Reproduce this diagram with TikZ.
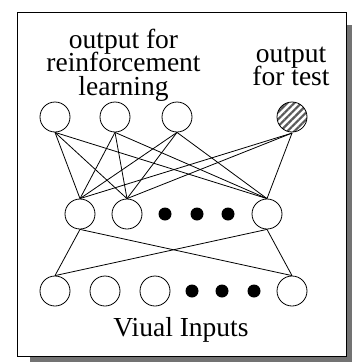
\documentclass[tikz,border=0pt]{standalone}
\usepackage{fontspec}
\setmainfont{Liberation Serif}
\usetikzlibrary{patterns.meta}
\tikzset{
  neuron/.style={circle,draw,line width=0.8pt,minimum size=30pt,inner sep=0pt,fill=white},
  dotnode/.style={circle,fill=black,minimum size=13pt,inner sep=0pt},
  conn/.style={line width=0.8pt},
  lbl/.style={align=center,inner sep=0pt,font={\fontsize{27.5}{23.5}\selectfont\lineskiplimit=-30pt}},
}
\begin{document}
\begin{tikzpicture}[x=1pt,y=-1pt]
\useasboundingbox (0,0) rectangle (352,362);
% shadow and frame
\fill[black!55] (30,25) rectangle (352,362);
\draw[fill=white,line width=0.8pt] (17,12) rectangle (346,356);
% labels
\node[lbl] (rl) at (123.5,65) {output for\\reinforcement\\learning};
\node[lbl] (tl) at (291,66.5) {output\\for test};
\node[lbl,anchor=base] (vi) at (181,336) {Viual Inputs};
% top layer
\node[neuron] (a1) at (55,117) {};
\node[neuron] (a2) at (115,117) {};
\node[neuron] (a3) at (177,117) {};
\node[neuron,pattern={Lines[angle=45,distance=5pt,line width=2.2pt]},pattern color=black!65] (t) at (292,117) {};
% middle layer
\node[neuron] (m1) at (80,214) {};
\node[neuron] (m2) at (127,214) {};
\node[dotnode] (md1) at (165,214) {};
\node[dotnode] (md2) at (197,214) {};
\node[dotnode] (md3) at (228,214) {};
\node[neuron] (m3) at (267,214) {};
% bottom layer
\node[neuron] (b1) at (55,291) {};
\node[neuron] (b2) at (105,291) {};
\node[neuron] (b3) at (155,291) {};
\node[dotnode] (bd1) at (192,291) {};
\node[dotnode] (bd2) at (222,291) {};
\node[dotnode] (bd3) at (254,291) {};
\node[neuron] (b4) at (292,291) {};
% connections top-middle
\foreach \u in {a1,a2,a3,t}
  \foreach \v in {m1,m2,m3}
    \draw[conn] (\u.south) -- (\v.north);
% connections middle-bottom
\foreach \u in {m1,m3}
  \foreach \v in {b1,b4}
    \draw[conn] (\u.south) -- (\v.north);
\end{tikzpicture}
\end{document}
